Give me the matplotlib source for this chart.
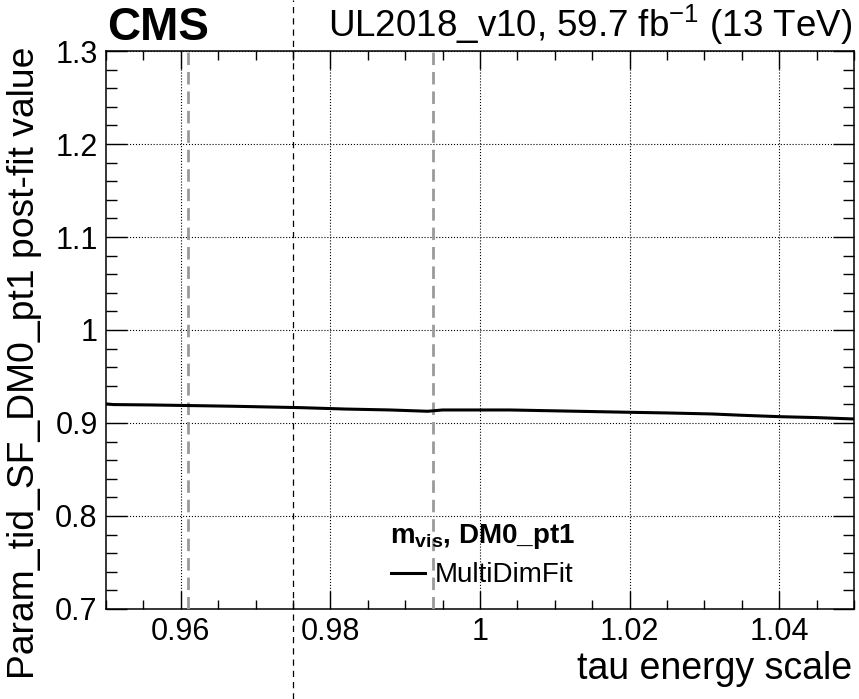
import numpy as np
import matplotlib.pyplot as plt
import matplotlib.transforms as mtransforms
from matplotlib.lines import Line2D
from matplotlib.ticker import MultipleLocator

plt.rcParams['font.family'] = ['Liberation Sans', 'DejaVu Sans']
plt.rcParams['mathtext.fontset'] = 'custom'
plt.rcParams['mathtext.rm'] = 'Liberation Sans'
plt.rcParams['mathtext.bf'] = 'Liberation Sans:bold'
plt.rcParams['mathtext.it'] = 'Liberation Sans:italic'

# scan of the tau energy scale vs post-fit SF
tes = [0.950, 0.951, 0.956, 0.967, 0.976, 0.982, 0.988, 0.993, 0.995, 1.004,
       1.013, 1.020, 1.025, 1.031, 1.035, 1.040, 1.045, 1.050]
sf_postfit = [0.9205, 0.9198, 0.9194, 0.9180, 0.9165, 0.9150, 0.9140, 0.9126, 0.9140, 0.9140,
              0.9126, 0.9115, 0.9108, 0.9097, 0.9083, 0.9068, 0.9058, 0.9043]

# vertical markers
tes_gray = [0.961, 0.9937]
tes_black = 0.975

fig = plt.figure(figsize=(8.59, 6.99), dpi=100)
ax = fig.add_axes([0.1234, 0.1288, 0.8708, 0.7982])

ax.plot(tes, sf_postfit, color='black', lw=2.2, label='MultiDimFit', zorder=5)
for x in tes_gray:
    ax.axvline(x, color='#9a9a9a', lw=2.0, ls=(0, (4.5, 2.5)), zorder=4)

# black dashed line running over the whole canvas
trans = mtransforms.blended_transform_factory(ax.transData, fig.transFigure)
fig.add_artist(Line2D([tes_black, tes_black], [0, 1], transform=trans,
                      color='black', lw=0.9, ls=(0, (5, 4))))

ax.set_xlim(0.95, 1.05)
ax.set_ylim(0.7, 1.3)
ax.xaxis.set_minor_locator(MultipleLocator(0.005))
ax.yaxis.set_minor_locator(MultipleLocator(0.02))
ax.set_xticks([0.96, 0.98, 1.0, 1.02, 1.04])
ax.set_xticklabels(['0.96', '0.98', '1', '1.02', '1.04'])
ax.set_yticks([0.7, 0.8, 0.9, 1.0, 1.1, 1.2, 1.3])
ax.set_yticklabels(['0.7', '0.8', '0.9', '1', '1.1', '1.2', '1.3'])

ax.grid(True, which='major', ls=':', color='black', lw=0.8)
ax.tick_params(which='both', direction='in', top=True, right=True,
               labelsize=22, width=1.0)
ax.tick_params(axis='x', which='major', length=13, pad=6)
ax.tick_params(axis='x', which='minor', length=6.5)
ax.tick_params(axis='y', which='major', length=15, pad=6)
ax.tick_params(axis='y', which='minor', length=8)
for s in ax.spines.values():
    s.set_linewidth(1.1)

ax.set_xlabel('tau energy scale', fontsize=27, ha='right')
ax.xaxis.set_label_coords(0.997, -0.076)
ax.set_ylabel('Param_tid_SF_DM0_pt1 post-fit value', fontsize=26.8, loc='top')
ax.yaxis.set_label_coords(-0.0856, 1.007)

fig.text(107 / 859, 1 - 40 / 699, 'CMS', fontsize=33, fontweight='bold',
         ha='left', va='baseline')
fig.text(852 / 859, 1 - 37 / 699, 'UL2018_v10, 59.7 fb$^{-1}$ (13 TeV)',
         fontsize=26.5, ha='right', va='baseline')

leg = ax.legend(loc='lower center', bbox_to_anchor=(0.503, 0.012), frameon=False,
                fontsize=20, handlelength=1.2, handletextpad=0.35, borderpad=0,
                labelspacing=0, title=r'$\mathbf{m_{vis}}$, DM0_pt1',
                title_fontproperties={'size': 20, 'weight': 'bold'})
leg._legend_box.sep = 8

fig.savefig('out.png', dpi=100)
